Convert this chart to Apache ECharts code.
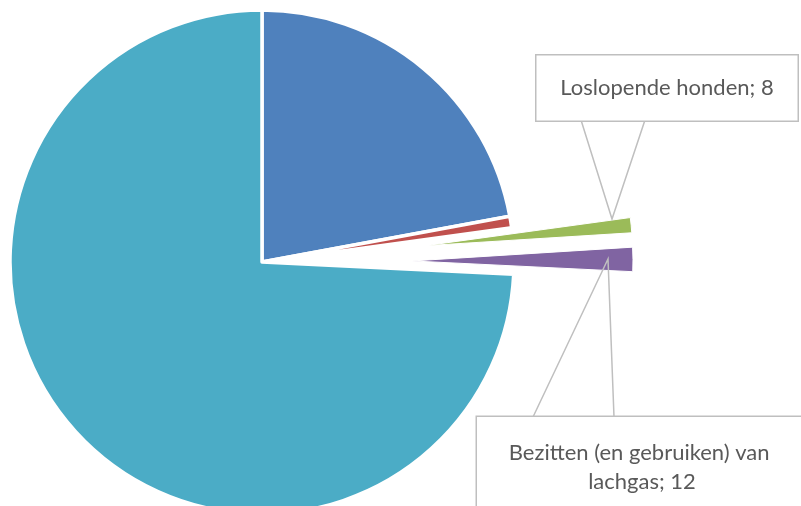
<!DOCTYPE html>
<html>
<head>
<meta charset="utf-8">
<script src="https://cdn.jsdelivr.net/npm/echarts@6/dist/echarts.min.js"></script>
<style>
  html, body { margin: 0; padding: 0; background: #fff; }
  #chart { width: 801px; height: 506px; }
</style>
</head>
<body>
<div id="chart"></div>
<script>
var names = ["Categorie 1", "Categorie 2", "Loslopende honden", "Bezitten (en gebruiken) van lachgas", "Categorie 5"];
var values = [150, 5, 8, 12, 504];
var colors = ["#4F81BD", "#C0504D", "#9BBB59", "#8064A2", "#4BACC6"];

var myChart = echarts.init(document.getElementById("chart"));

// alleen de gekozen stukken zichtbaar, de rest doorzichtig
function pieData(visible, selectIdx, labelIdx, border) {
  return values.map(function (v, i) {
    var on = visible.indexOf(i) >= 0;
    var lab = labelIdx.indexOf(i) >= 0;
    return {
      name: names[i],
      value: v,
      selected: i === selectIdx,
      itemStyle: on
        ? { color: colors[i], borderColor: "#fff", borderWidth: border }
        : { color: "rgba(0,0,0,0)", borderWidth: 0 },
      label: { show: lab },
      labelLine: { show: lab }
    };
  });
}

var labelBase = {
  formatter: "{b}; {c}",
  fontFamily: "Lato",
  fontSize: 22,
  color: "#595959",
  backgroundColor: "#fff",
  borderColor: "#bfbfbf",
  borderWidth: 1.5,
  align: "center"
};

// callouts (posities van de labelkaders)
var callouts = {
  2: { x: 667, y: 88, pts: [[581, 120], [612, 219], [645, 120]],
       style: { width: 261, height: 65, lineHeight: 65 } },
  3: { x: 642, y: 467, pts: [[533, 417], [608, 259], [614, 417]],
       style: { width: 270, overflow: "break", lineHeight: 29, padding: [21, 30, 21, 30] } }
};

var labelData = pieData([], -1, [2, 3], 0);
labelData.forEach(function (d, i) {
  if (callouts[i]) d.label = Object.assign({ show: true }, labelBase, callouts[i].style);
});

var option = {
  animation: false,
  series: [
    {
      type: "pie",
      center: [262, 262],
      radius: 252,
      startAngle: 90,
      silent: true,
      label: { show: false },
      labelLine: { show: false },
      data: pieData([0, 1, 4], -1, [], 3.5)
    },
    {
      type: "pie",
      center: [262, 262],
      radius: 207,
      startAngle: 90,
      silent: true,
      selectedMode: "single",
      selectedOffset: 164,
      label: { show: false },
      data: pieData([2], 2, [], 1)
    },
    {
      type: "pie",
      center: [262, 262],
      radius: 221,
      startAngle: 90,
      silent: true,
      selectedMode: "single",
      selectedOffset: 150,
      label: { show: false },
      data: pieData([3], 3, [], 1)
    },
    {
      type: "pie",
      center: [262, 262],
      radius: 252,
      startAngle: 90,
      silent: true,
      z: 5,
      labelLine: { lineStyle: { color: "#bfbfbf", width: 1.5 } },
      labelLayout: function (p) {
        var c = callouts[p.dataIndex];
        if (!c) return {};
        return { x: c.x, y: c.y, align: "center", verticalAlign: "middle", labelLinePoints: c.pts };
      },
      data: labelData
    }
  ]
};

myChart.setOption(option);
</script>
</body>
</html>
